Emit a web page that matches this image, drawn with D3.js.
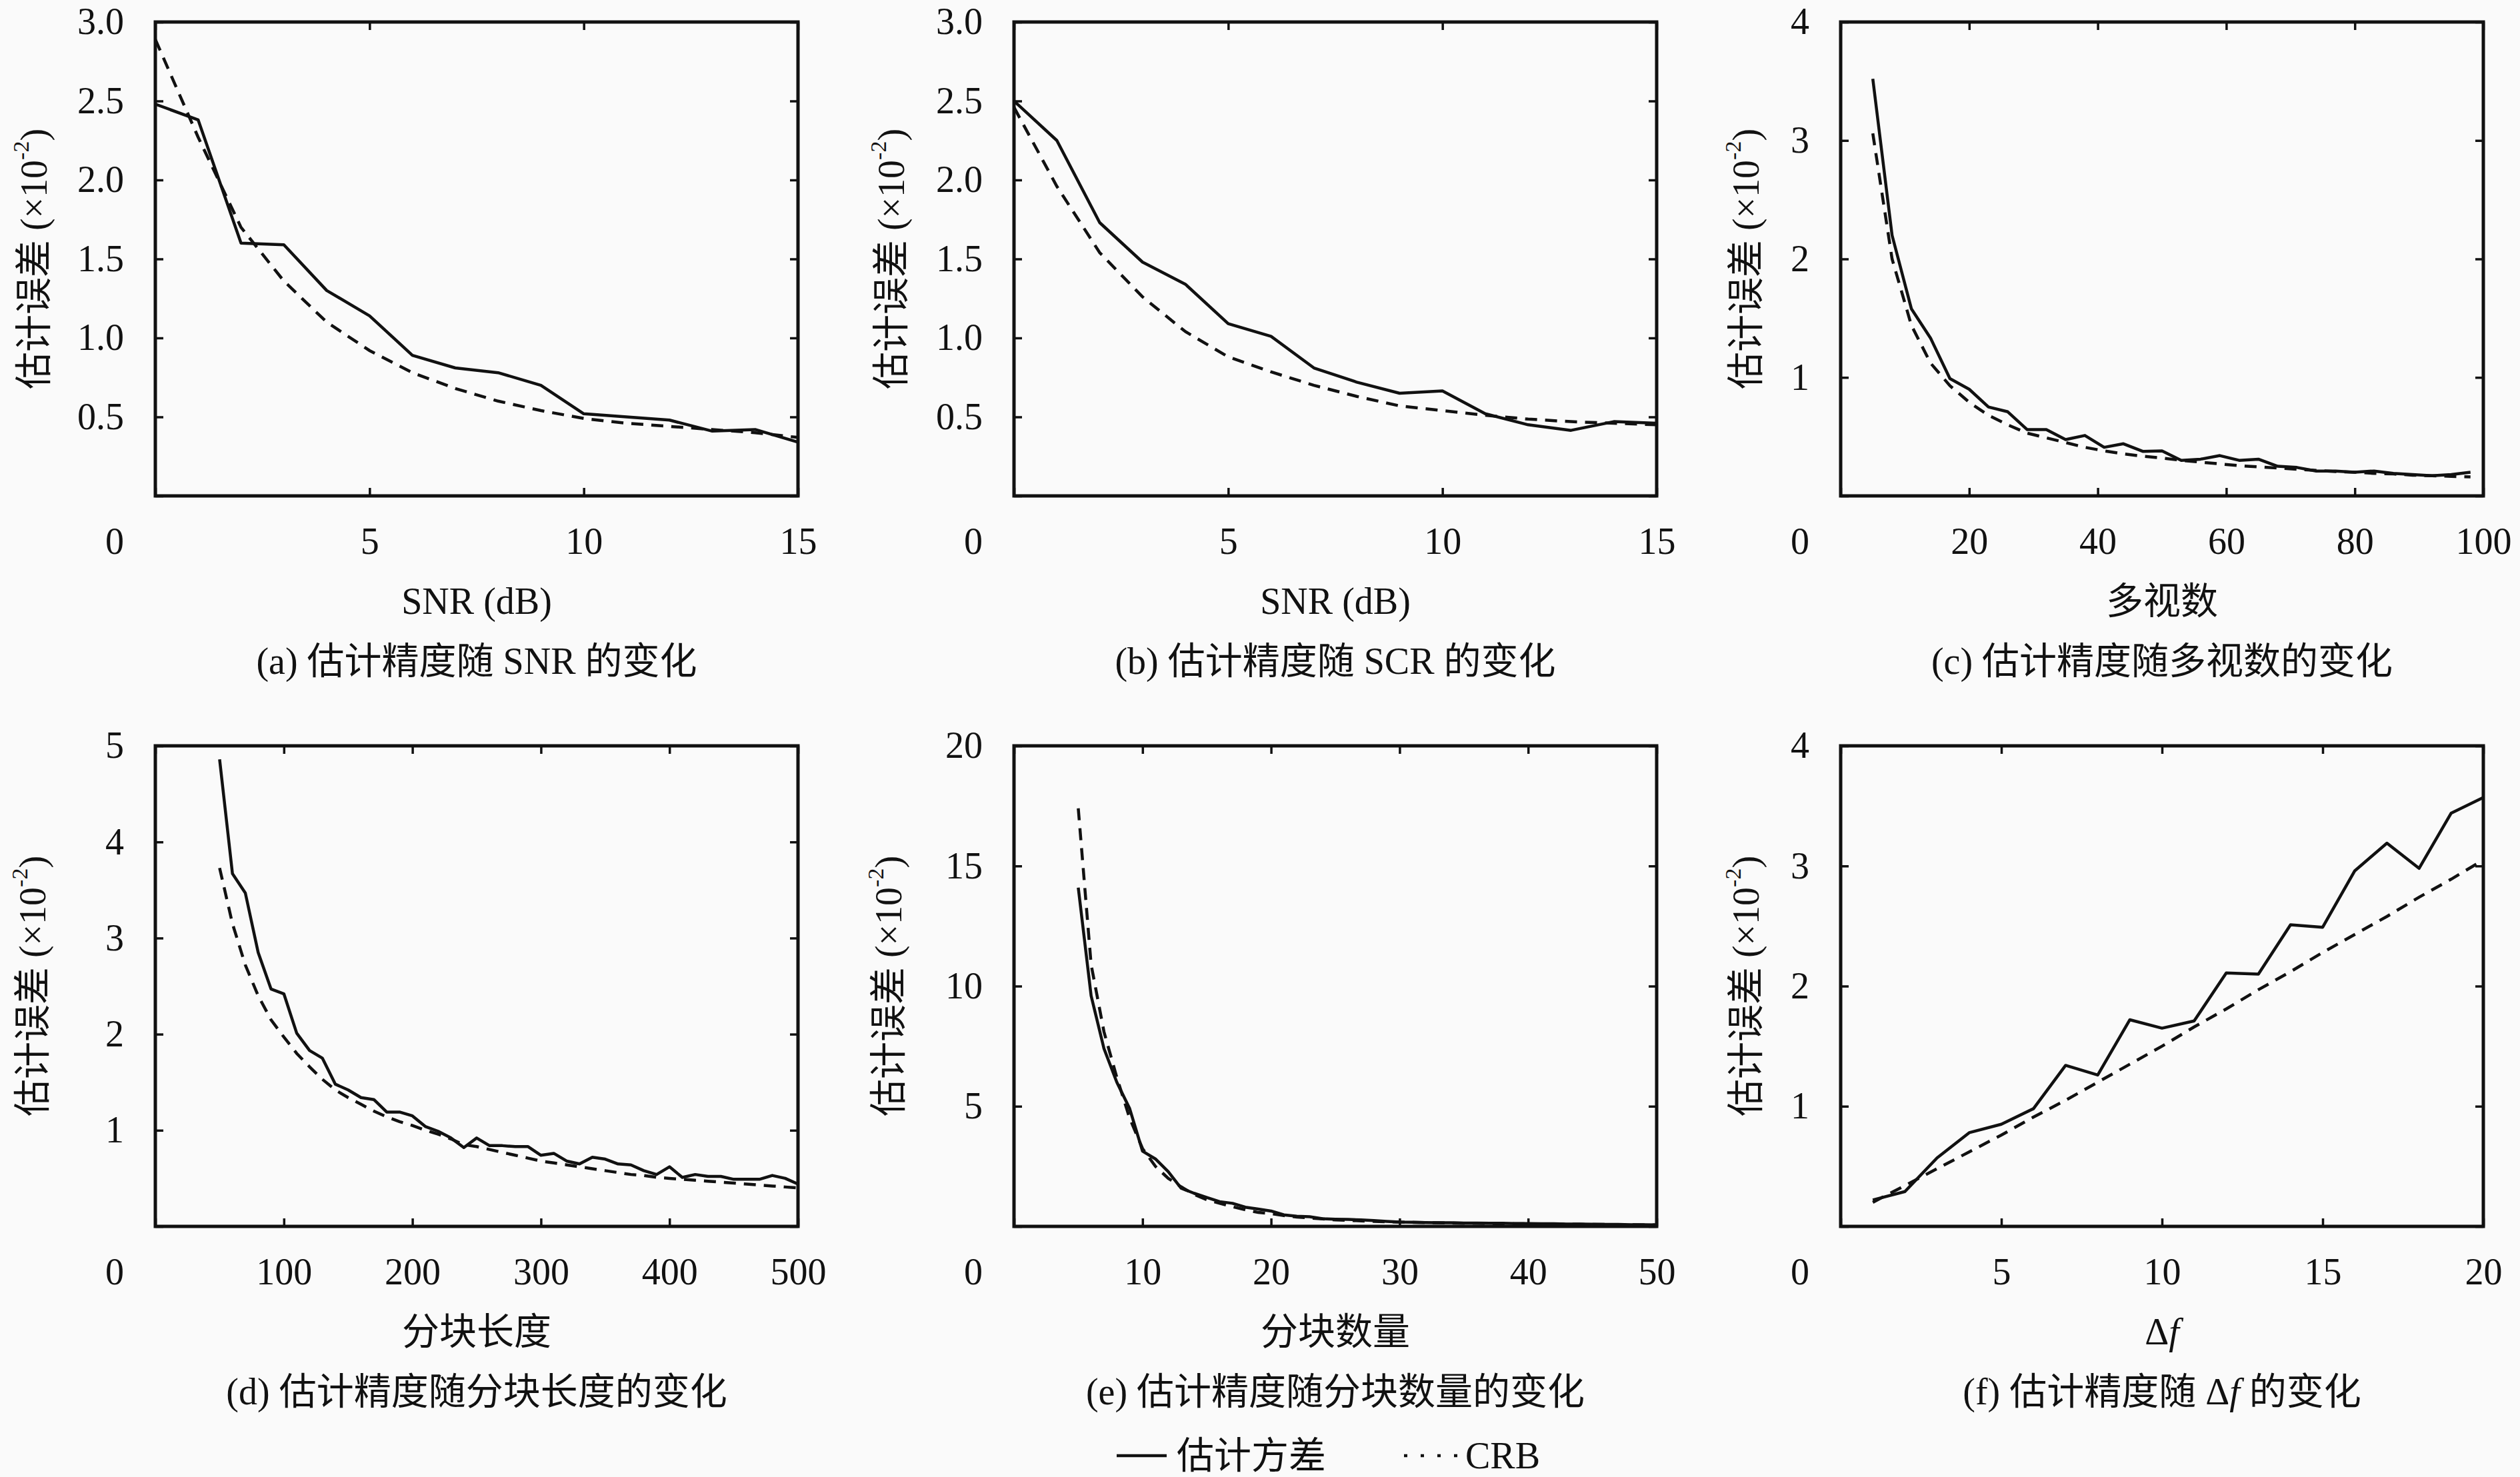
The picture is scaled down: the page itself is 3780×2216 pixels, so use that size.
<!DOCTYPE html>
<html>
<head>
<meta charset="utf-8">
<script src="https://cdn.jsdelivr.net/npm/d3@7"></script>
<style>
body { margin: 0; background: #fafafa; }
</style>
</head>
<body>
<div id="chart"></div>
<script>
const W = 3780
const H = 2216

// (a) SNR
const snrX = [0, 1, 2, 3, 4, 5, 6, 7, 8, 9, 10, 11, 12, 13, 14, 15]
const snrEst = [2.48, 2.38, 1.60, 1.59, 1.30, 1.14, 0.89, 0.81, 0.78, 0.70, 0.52, 0.50, 0.48, 0.41, 0.42, 0.34]
const snrCrb = [2.89, 2.27, 1.70, 1.36, 1.10, 0.92, 0.78, 0.68, 0.60, 0.54, 0.49, 0.46, 0.44, 0.42, 0.40, 0.37]

// (b) SCR
const scrX = [0, 1, 2, 3, 4, 5, 6, 7, 8, 9, 10, 11, 12, 13, 14, 15]
const scrEst = [2.50, 2.25, 1.73, 1.48, 1.34, 1.09, 1.01, 0.81, 0.72, 0.65, 0.665, 0.52, 0.45, 0.415, 0.47, 0.46]
const scrCrb = [2.46, 1.96, 1.54, 1.26, 1.04, 0.88, 0.785, 0.70, 0.63, 0.57, 0.54, 0.51, 0.486, 0.47, 0.46, 0.45]

// (c) looks
const looksX = [5, 8, 11, 14, 17, 20, 23, 26, 29, 32, 35, 38, 41, 44, 47, 50, 53, 56, 59, 62, 65, 68, 71, 74, 77, 80, 83, 86, 89, 92, 95, 98]
const looksEst = [3.52, 2.20, 1.58, 1.33, 0.99, 0.90, 0.75, 0.71, 0.56, 0.56, 0.475, 0.51, 0.41, 0.44, 0.376, 0.38, 0.30, 0.31, 0.34, 0.30, 0.31, 0.25, 0.24, 0.21, 0.21, 0.20, 0.21, 0.19, 0.18, 0.17, 0.18, 0.20]
const looksCrb = [3.06, 2.00, 1.44, 1.12, 0.93, 0.79, 0.68, 0.60, 0.53, 0.49, 0.45, 0.41, 0.38, 0.355, 0.335, 0.32, 0.30, 0.285, 0.27, 0.255, 0.245, 0.235, 0.225, 0.215, 0.205, 0.20, 0.19, 0.185, 0.175, 0.17, 0.165, 0.16]

// (d) block length
const blockLenX = [50, 60, 70, 80, 90, 100, 110, 120, 130, 140, 150, 160, 170, 180, 190, 200, 210, 220, 230, 240, 250, 260, 270, 280, 290, 300, 310, 320, 330, 340, 350, 360, 370, 380, 390, 400, 410, 420, 430, 440, 450, 460, 470, 480, 490, 500]
const blockLenEst = [4.86, 3.67, 3.47, 2.85, 2.47, 2.42, 2.01, 1.83, 1.75, 1.48, 1.42, 1.34, 1.32, 1.19, 1.19, 1.15, 1.04, 0.99, 0.92, 0.82, 0.92, 0.84, 0.84, 0.83, 0.83, 0.74, 0.76, 0.68, 0.65, 0.72, 0.70, 0.65, 0.64, 0.58, 0.54, 0.62, 0.51, 0.54, 0.52, 0.52, 0.49, 0.49, 0.49, 0.53, 0.50, 0.44]
const blockLenCrb = [3.73, 3.15, 2.72, 2.40, 2.15, 1.97, 1.80, 1.66, 1.53, 1.42, 1.34, 1.27, 1.20, 1.14, 1.09, 1.05, 1.00, 0.96, 0.91, 0.85, 0.83, 0.80, 0.77, 0.74, 0.71, 0.68, 0.66, 0.64, 0.62, 0.60, 0.58, 0.56, 0.54, 0.53, 0.51, 0.50, 0.49, 0.48, 0.47, 0.46, 0.45, 0.44, 0.43, 0.42, 0.41, 0.40]

// (e) number of blocks
const blockNumX = [5, 6, 7, 8, 9, 10, 11, 12, 13, 14, 15, 16, 17, 18, 19, 20, 21, 22, 23, 24, 25, 26, 27, 28, 29, 30, 31, 32, 33, 34, 35, 36, 37, 38, 39, 40, 41, 42, 43, 44, 45, 46, 47, 48, 49, 50]
const blockNumEst = [14.1, 9.6, 7.4, 6.0, 4.9, 3.13, 2.81, 2.28, 1.59, 1.38, 1.20, 1.03, 0.96, 0.80, 0.72, 0.64, 0.48, 0.42, 0.40, 0.32, 0.30, 0.29, 0.27, 0.24, 0.21, 0.18, 0.17, 0.16, 0.15, 0.15, 0.14, 0.14, 0.13, 0.13, 0.12, 0.12, 0.11, 0.11, 0.10, 0.10, 0.09, 0.08, 0.08, 0.07, 0.07, 0.06]
const blockNumCrb = [17.4, 10.9, 8.1, 6.2, 4.5, 3.24, 2.5, 2.0, 1.65, 1.33, 1.11, 0.96, 0.82, 0.69, 0.58, 0.53, 0.45, 0.39, 0.35, 0.31, 0.27, 0.25, 0.23, 0.21, 0.19, 0.18, 0.17, 0.16, 0.15, 0.14, 0.13, 0.13, 0.12, 0.12, 0.11, 0.11, 0.10, 0.10, 0.09, 0.09, 0.08, 0.08, 0.07, 0.07, 0.06, 0.06]

// (f) delta f
const dfX = [1, 2, 3, 4, 5, 6, 7, 8, 9, 10, 11, 12, 13, 14, 15, 16, 17, 18, 19, 20]
const dfEst = [0.22, 0.29, 0.57, 0.78, 0.85, 0.98, 1.34, 1.26, 1.72, 1.65, 1.71, 2.11, 2.10, 2.51, 2.49, 2.96, 3.19, 2.98, 3.44, 3.57]
const dfCrb = [0.20, 0.34, 0.48, 0.62, 0.76, 0.91, 1.05, 1.20, 1.35, 1.50, 1.66, 1.81, 1.97, 2.12, 2.28, 2.43, 2.58, 2.74, 2.89, 3.05]

// ticks
const snrXTicks = [0, 5, 10, 15]
const snrYTicks = [0, 0.5, 1.0, 1.5, 2.0, 2.5, 3.0]
const looksXTicks = [0, 20, 40, 60, 80, 100]
const looksYTicks = [0, 1, 2, 3, 4]
const blockLenXTicks = [0, 100, 200, 300, 400, 500]
const blockLenYTicks = [0, 1, 2, 3, 4, 5]
const blockNumXTicks = [0, 10, 20, 30, 40, 50]
const blockNumYTicks = [0, 5, 10, 15, 20]
const dfXTicks = [0, 5, 10, 15, 20]
const dfYTicks = [0, 1, 2, 3, 4]

const legendNames = ['估计方差', 'CRB']

const font = "'Liberation Serif', 'Noto Sans CJK SC', serif"
const fs = 56

const svg = d3.select('#chart')
    .append('svg')
    .attr('width', W)
    .attr('height', H)

svg.append('rect').attr('width', W).attr('height', H).attr('fill', '#fafafa')

const one = d3.format('.1f')
const plain = d3.format('d')

const panels = [
    {left: 233, top: 33, h: 711, x: snrX, est: snrEst, crb: snrCrb, xd: [0, 15], yd: [0, 3], xt: snrXTicks, yt: snrYTicks, yf: one, xTitle: ['SNR (dB)'], cap: ['(a) 估计精度随 SNR 的变化'], yOff: 182},
    {left: 1521, top: 33, h: 711, x: scrX, est: scrEst, crb: scrCrb, xd: [0, 15], yd: [0, 3], xt: snrXTicks, yt: snrYTicks, yf: one, xTitle: ['SNR (dB)'], cap: ['(b) 估计精度随 SCR 的变化'], yOff: 184},
    {left: 2761, top: 33, h: 711, x: looksX, est: looksEst, crb: looksCrb, xd: [0, 100], yd: [0, 4], xt: looksXTicks, yt: looksYTicks, yf: plain, xTitle: ['多视数'], cap: ['(c) 估计精度随多视数的变化'], yOff: 142},
    {left: 233, top: 1119, h: 721, x: blockLenX, est: blockLenEst, crb: blockLenCrb, xd: [0, 500], yd: [0, 5], xt: blockLenXTicks, yt: blockLenYTicks, yf: plain, xTitle: ['分块长度'], cap: ['(d) 估计精度随分块长度的变化'], yOff: 184},
    {left: 1521, top: 1119, h: 721, x: blockNumX, est: blockNumEst, crb: blockNumCrb, xd: [0, 50], yd: [0, 20], xt: blockNumXTicks, yt: blockNumYTicks, yf: plain, xTitle: ['分块数量'], cap: ['(e) 估计精度随分块数量的变化'], yOff: 188},
    {left: 2761, top: 1119, h: 721, x: dfX, est: dfEst, crb: dfCrb, xd: [0, 20], yd: [0, 4], xt: dfXTicks, yt: dfYTicks, yf: plain, xTitle: ['Δ', 'f'], cap: ['(f) 估计精度随 Δ', 'f', ' 的变化'], yOff: 142}
]

const pw = 964

// text pieces: odd index pieces are italic
function addText(g, parts) {
    parts.forEach((s, i) => {
        g.append('tspan').text(s).attr('font-style', i % 2 === 1 ? 'italic' : 'normal')
    })
}

panels.forEach(p => {
    const h = p.h
    const g = svg.append('g').attr('transform', `translate(${p.left},${p.top})`)

    const x = d3.scaleLinear().domain(p.xd).range([0, pw])
    const y = d3.scaleLinear().domain(p.yd).range([h, 0])

    // inward ticks on all four sides
    const tickAxes = [
        [d3.axisBottom(x).tickValues(p.xt), `translate(0,${h})`],
        [d3.axisTop(x).tickValues(p.xt), 'translate(0,0)'],
        [d3.axisLeft(y).tickValues(p.yt), 'translate(0,0)'],
        [d3.axisRight(y).tickValues(p.yt), `translate(${pw},0)`]
    ]
    tickAxes.forEach(([ax, tr]) => {
        const a = g.append('g')
            .attr('transform', tr)
            .call(ax.tickSize(-12).tickFormat(''))
        a.select('.domain').remove()
        a.selectAll('line').attr('stroke', '#111').attr('stroke-width', 3.5)
    })

    // tick labels
    const xl = g.append('g')
        .attr('transform', `translate(0,${h})`)
        .call(d3.axisBottom(x).tickValues(p.xt.filter(v => v !== 0)).tickSize(0).tickPadding(47).tickFormat(plain))
    const yl = g.append('g')
        .call(d3.axisLeft(y).tickValues(p.yt.filter(v => v !== 0)).tickSize(0).tickPadding(47).tickFormat(p.yf))
    ;[xl, yl].forEach(a => {
        a.select('.domain').remove()
        a.attr('font-family', font).attr('font-size', fs)
        a.selectAll('text').attr('fill', '#111')
    })

    // shared origin label
    g.append('text')
        .attr('x', -47)
        .attr('y', h + 47)
        .attr('dy', '0.71em')
        .attr('text-anchor', 'end')
        .attr('font-family', font)
        .attr('font-size', fs)
        .attr('fill', '#111')
        .text('0')

    // frame
    g.append('rect')
        .attr('width', pw)
        .attr('height', h)
        .attr('fill', 'none')
        .attr('stroke', '#111')
        .attr('stroke-width', 5)

    const line = d3.line()
        .x(d => x(d[0]))
        .y(d => y(d[1]))

    g.append('path')
        .datum(p.x.map((v, i) => [v, p.crb[i]]))
        .attr('d', line)
        .attr('fill', 'none')
        .attr('stroke', '#111')
        .attr('stroke-width', 4.5)
        .attr('stroke-dasharray', '18 12')

    g.append('path')
        .datum(p.x.map((v, i) => [v, p.est[i]]))
        .attr('d', line)
        .attr('fill', 'none')
        .attr('stroke', '#111')
        .attr('stroke-width', 4.5)
        .attr('stroke-linejoin', 'round')

    // axis titles and caption
    const xt = g.append('text')
        .attr('x', pw / 2)
        .attr('y', h + 158)
        .attr('text-anchor', 'middle')
        .attr('dominant-baseline', 'central')
        .attr('font-family', font)
        .attr('font-size', fs)
        .attr('fill', '#111')
    addText(xt, p.xTitle)

    const cp = g.append('text')
        .attr('x', pw / 2)
        .attr('y', h + 248)
        .attr('text-anchor', 'middle')
        .attr('dominant-baseline', 'central')
        .attr('font-family', font)
        .attr('font-size', fs)
        .attr('fill', '#111')
    addText(cp, p.cap)

    const yt = g.append('text')
        .attr('transform', `translate(${-p.yOff},${h / 2}) rotate(-90)`)
        .attr('text-anchor', 'middle')
        .attr('dominant-baseline', 'central')
        .attr('font-family', font)
        .attr('font-size', fs)
        .attr('fill', '#111')
    yt.append('tspan').text('估计误差 (×10')
    yt.append('tspan').text('-2').attr('font-size', 34).attr('dy', -20)
    yt.append('tspan').text(')').attr('dy', 20)
})

// legend
const lg = svg.append('g').attr('transform', 'translate(0,2184)')
lg.append('line')
    .attr('x1', 1675).attr('x2', 1750)
    .attr('stroke', '#111').attr('stroke-width', 4.5)
lg.append('text')
    .attr('x', 1765)
    .attr('dominant-baseline', 'central')
    .attr('font-family', font).attr('font-size', fs).attr('fill', '#111')
    .text(legendNames[0])
lg.append('line')
    .attr('x1', 2106).attr('x2', 2186)
    .attr('stroke', '#111').attr('stroke-width', 4.5)
    .attr('stroke-dasharray', '5 20')
lg.append('text')
    .attr('x', 2198)
    .attr('dominant-baseline', 'central')
    .attr('font-family', font).attr('font-size', fs).attr('fill', '#111')
    .text(legendNames[1])
</script>
</body>
</html>
